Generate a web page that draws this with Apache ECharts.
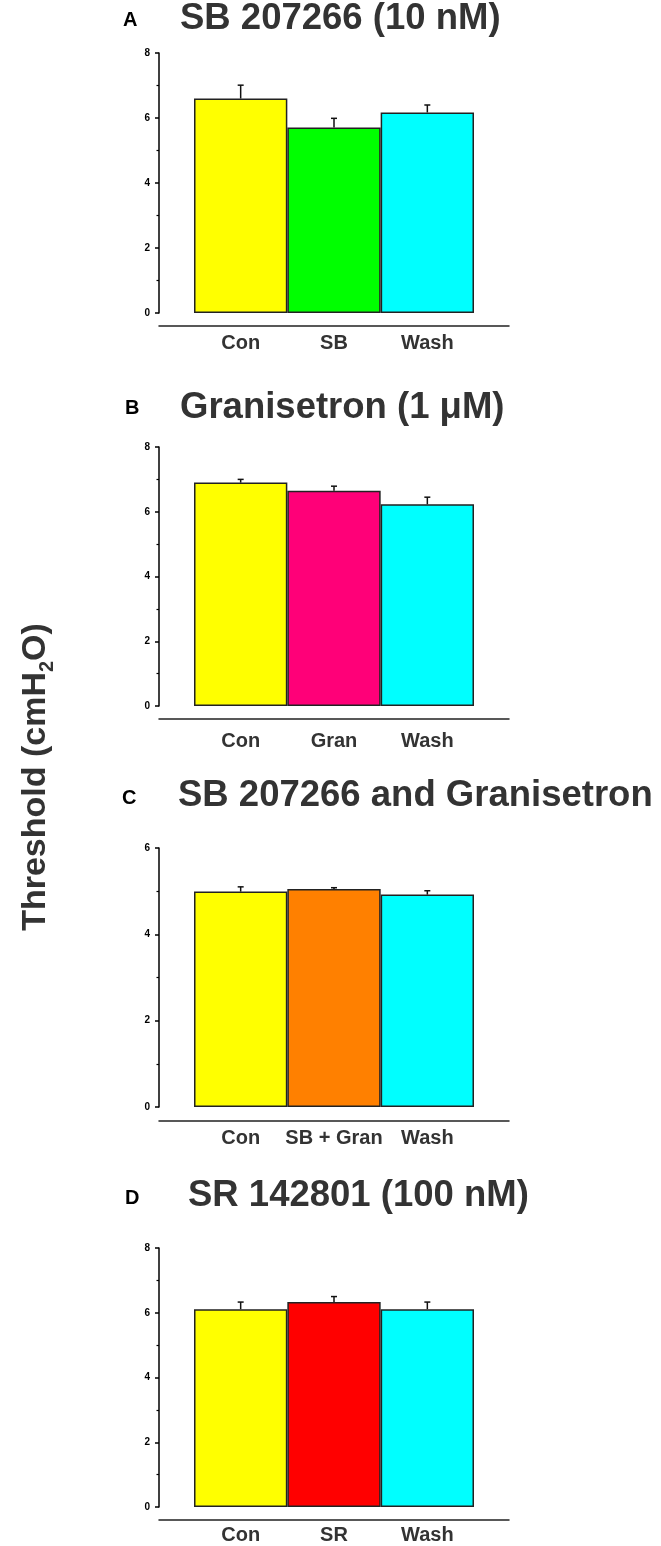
<!DOCTYPE html>
<html>
<head>
<meta charset="utf-8">
<script src="https://cdn.jsdelivr.net/npm/echarts@6/dist/echarts.min.js"></script>
<style>
  html, body { margin: 0; padding: 0; background: #fff; }
  #main { width: 661px; height: 1546px; }
</style>
</head>
<body>
<div id="main"></div>
<script>
// data (mean, SEM), threshold in cmH2O
const catsA = ['Con', 'SB', 'Wash'];
const meanA = [6.6, 5.71, 6.17];
const semA = [0.41, 0.28, 0.23];

const catsB = ['Con', 'Gran', 'Wash'];
const meanB = [6.9, 6.65, 6.23];
const semB = [0.1, 0.14, 0.22];

const catsC = ['Con', 'SB + Gran', 'Wash'];
const meanC = [4.99, 5.05, 4.92];
const semC = [0.11, 0.03, 0.09];

const catsD = ['Con', 'SR', 'Wash'];
const meanD = [6.11, 6.33, 6.11];
const semD = [0.22, 0.17, 0.22];

const yMaxes = [8, 8, 6, 8];

const chart = echarts.init(document.getElementById('main'), null, { renderer: 'canvas' });

const FONT = 'Liberation Sans, Arial, Helvetica, sans-serif';

// layout of each panel
const panels = [
  { letter: 'A', title: 'SB 207266 (10 nM)', cats: catsA, mean: meanA, sem: semA,
    colors: ['#ffff00', '#00ff00', '#00ffff'],
    top: 53, zero: 313, line: 326, labelMargin: 7, titleTop: 0, titleLeft: 180, letterTop: 10, letterLeft: 123 },
  { letter: 'B', title: 'Granisetron (1 μM)', cats: catsB, mean: meanB, sem: semB,
    colors: ['#ffff00', '#ff0078', '#00ffff'],
    top: 447, zero: 706, line: 719, labelMargin: 12, titleTop: 389, titleLeft: 180, letterTop: 398, letterLeft: 125 },
  { letter: 'C', title: 'SB 207266 and Granisetron', cats: catsC, mean: meanC, sem: semC,
    colors: ['#ffff00', '#ff8000', '#00ffff'],
    top: 848, zero: 1107, line: 1121, labelMargin: 7, titleTop: 777, titleLeft: 178, letterTop: 788, letterLeft: 122 },
  { letter: 'D', title: 'SR 142801 (100 nM)', cats: catsD, mean: meanD, sem: semD,
    colors: ['#ffff00', '#ff0000', '#00ffff'],
    top: 1248, zero: 1507, line: 1520, labelMargin: 5, titleTop: 1177, titleLeft: 188, letterTop: 1188, letterLeft: 125 }
];

const H = 1546;
const grid = [], xAxis = [], yAxis = [], series = [], title = [];

panels.forEach((p, i) => {
  // bar grid
  grid.push({ left: 194, right: 187, top: p.top, bottom: H - p.zero });
  // grid carrying only the long baseline under the bars
  grid.push({ left: 159, right: 152, top: p.top, bottom: H - p.line });

  xAxis.push({
    type: 'category', gridIndex: 2 * i, data: p.cats,
    offset: p.line - p.zero,
    axisLine: { show: false }, axisTick: { show: false },
    axisLabel: {
      interval: 0, hideOverlap: false,
      fontFamily: FONT, fontWeight: 'bold', fontSize: 20, color: '#333', margin: p.labelMargin
    }
  });
  xAxis.push({
    type: 'category', gridIndex: 2 * i + 1, data: p.cats,
    axisLine: { lineStyle: { color: '#222', width: 1.5 } },
    axisTick: { show: false }, axisLabel: { show: false }
  });

  yAxis.push({
    type: 'value', gridIndex: 2 * i, min: 0, max: yMaxes[i], interval: 2,
    offset: 35,
    axisLine: { show: true, lineStyle: { color: '#000', width: 1.5 } },
    axisTick: { show: true, length: 4, lineStyle: { color: '#000', width: 1.5 } },
    minorTick: { show: true, splitNumber: 2, length: 2.5, lineStyle: { color: '#000', width: 1.2 } },
    splitLine: { show: false },
    axisLabel: { fontFamily: FONT, fontWeight: 'bold', fontSize: 10, color: '#000', margin: 9 }
  });
  yAxis.push({ type: 'value', gridIndex: 2 * i + 1, min: 0, max: 1, show: false });

  series.push({
    type: 'bar', xAxisIndex: 2 * i, yAxisIndex: 2 * i,
    barWidth: '100%', barGap: '0%',
    data: p.mean.map((v, k) => ({ value: v, itemStyle: { color: p.colors[k] } })),
    itemStyle: { borderColor: '#222', borderWidth: 1.5 },
    silent: true, z: 2
  });

  // upper error bars
  series.push({
    type: 'custom', xAxisIndex: 2 * i, yAxisIndex: 2 * i, z: 3, silent: true,
    data: p.mean.map((v, k) => [k, v, v + p.sem[k]]),
    renderItem: (params, api) => {
      const a = api.coord([api.value(0), api.value(1)]);
      const b = api.coord([api.value(0), api.value(2)]);
      const st = { stroke: '#111', lineWidth: 1.5 };
      return {
        type: 'group',
        children: [
          { type: 'line', shape: { x1: a[0], y1: a[1], x2: b[0], y2: b[1] }, style: st },
          { type: 'line', shape: { x1: b[0] - 3, y1: b[1], x2: b[0] + 3, y2: b[1] }, style: st }
        ]
      };
    }
  });

  title.push({
    text: p.letter, left: p.letterLeft, top: p.letterTop, padding: 0,
    textStyle: { fontFamily: FONT, fontWeight: 'bold', fontSize: 20, color: '#000' }
  });
  title.push({
    text: p.title, left: p.titleLeft, top: p.titleTop, padding: 0,
    textStyle: { fontFamily: FONT, fontWeight: 'bold', fontSize: 36.5, color: '#333' }
  });
});

chart.setOption({
  backgroundColor: '#fff',
  animation: false,
  title: title,
  grid: grid,
  xAxis: xAxis,
  yAxis: yAxis,
  series: series,
  graphic: [{
    type: 'text',
    x: 36, y: 777,
    rotation: Math.PI / 2,
    style: {
      text: 'Threshold (cmH{sub|2}O)',
      fontFamily: FONT, fontWeight: 'bold', fontSize: 34, fill: '#333',
      align: 'center', verticalAlign: 'middle',
      rich: {
        sub: { fontFamily: FONT, fontWeight: 'bold', fontSize: 20, fill: '#333', padding: [22, 0, 0, 0] }
      }
    }
  }]
});
</script>
</body>
</html>
